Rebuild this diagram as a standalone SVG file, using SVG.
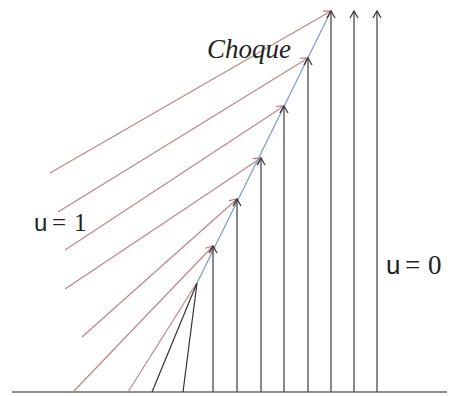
<svg xmlns="http://www.w3.org/2000/svg" width="449" height="396" viewBox="0 0 449 396">
<style>
.v{stroke:#4a4a4a;stroke-width:1.3;fill:none}
.r{stroke:#c08585;stroke-width:1.2;fill:none}
.k{stroke:#333;stroke-width:1.2;fill:none}
.b{stroke:#7f9fcc;stroke-width:1.3;fill:none}
.ax{stroke:#6a6a6a;stroke-width:1.5;fill:none}
.sans{font-family:"Liberation Sans",Arial,sans-serif;fill:#222}
.serif{font-family:"Liberation Serif","Times New Roman",serif;fill:#222}
</style>
<defs>
<marker id="ak" viewBox="-8 -5 10 10" markerWidth="10" markerHeight="10" refX="0" refY="0" orient="auto" markerUnits="userSpaceOnUse">
<path d="M-7,-4 L0,0 L-7,4" fill="none" stroke="#333" stroke-width="1.2"/>
</marker>
<marker id="ar" viewBox="-8 -5 10 10" markerWidth="10" markerHeight="10" refX="0" refY="0" orient="auto" markerUnits="userSpaceOnUse">
<path d="M-7,-4 L0,0 L-7,4" fill="none" stroke="#c07070" stroke-width="1.2"/>
</marker>
<marker id="ag" viewBox="-5 -3 6 6" markerWidth="6" markerHeight="6" refX="0" refY="0" orient="auto" markerUnits="userSpaceOnUse">
<path d="M-4,-2.5 L0,0 L-4,2.5" fill="none" stroke="#888" stroke-width="1"/>
</marker>
</defs>
<g id="axis">
<line class="ax" x1="12" y1="392" x2="447" y2="392"/>
</g>
<g id="connectors">
<line class="r" x1="50" y1="173" x2="331" y2="11" marker-end="url(#ar)"/>
<line class="r" x1="58" y1="212" x2="308" y2="58" marker-end="url(#ar)"/>
<line class="r" x1="65" y1="250" x2="284" y2="106" marker-end="url(#ar)"/>
<line class="r" x1="65" y1="289" x2="261" y2="158" marker-end="url(#ar)"/>
<line class="r" x1="82" y1="337" x2="237" y2="199" marker-end="url(#ar)"/>
<line class="r" x1="73" y1="392" x2="213" y2="246" marker-end="url(#ar)"/>
<line class="r" x1="128" y1="392" x2="196" y2="284"/>
<line class="k" x1="152" y1="392" x2="197" y2="283"/>
<line class="k" x1="183" y1="392" x2="197" y2="283"/>
<line class="b" x1="197" y1="283" x2="331" y2="11"/>
<line class="v" x1="213" y1="392" x2="213" y2="246" marker-end="url(#ak)"/>
<line class="v" x1="237" y1="392" x2="237" y2="199" marker-end="url(#ak)"/>
<line class="v" x1="261" y1="392" x2="261" y2="158" marker-end="url(#ak)"/>
<line class="v" x1="284" y1="392" x2="284" y2="106" marker-end="url(#ak)"/>
<line class="v" x1="308" y1="392" x2="308" y2="58" marker-end="url(#ak)"/>
<line class="v" x1="331" y1="392" x2="331" y2="11" marker-end="url(#ak)"/>
<line class="v" x1="354" y1="392" x2="354" y2="11" marker-end="url(#ak)"/>
<line class="v" x1="377" y1="392" x2="377" y2="11" marker-end="url(#ak)"/>
</g>
<g id="label-choque">
<text x="207" y="58" class="serif" font-style="italic" font-size="27">Choque</text>
</g>
<g id="label-u1">
<text x="34" y="231" class="sans" font-size="24">u</text>
<text x="52" y="231" class="serif" font-size="25">=</text>
<text x="74" y="231" class="serif" font-size="25">1</text>
</g>
<g id="label-u0">
<text x="386" y="274" class="sans" font-size="26">u</text>
<text x="405" y="274" class="serif" font-size="27">=</text>
<text x="428" y="274" class="serif" font-size="27">0</text>
</g>
</svg>
